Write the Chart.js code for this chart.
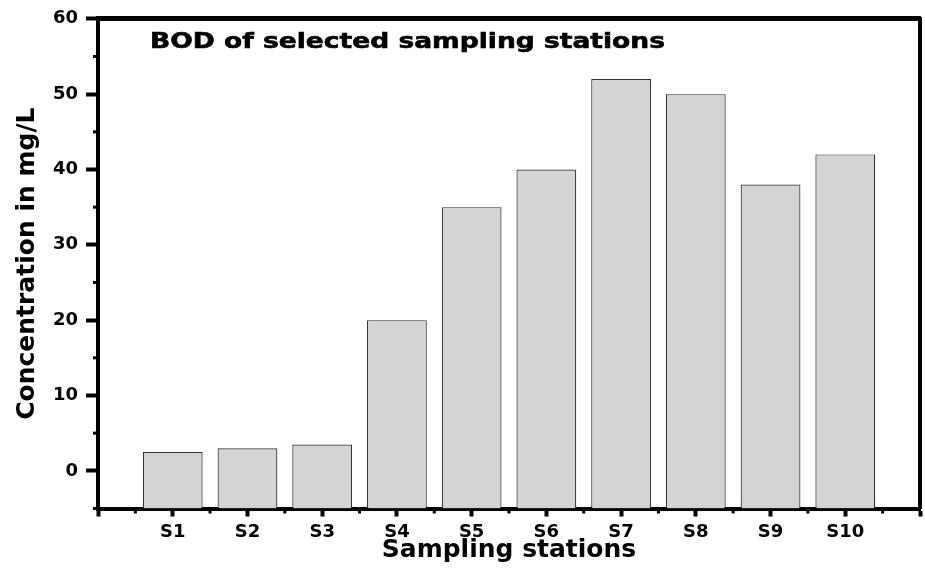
<!DOCTYPE html>
<html>
<head>
<meta charset="utf-8">
<script src="https://cdn.jsdelivr.net/npm/chart.js@4.4.0/dist/chart.umd.min.js"></script>
<style>
  html, body { margin: 0; padding: 0; background: #ffffff; }
  #wrap { width: 925px; height: 571px; }
</style>
</head>
<body>
<div id="wrap"><canvas id="c" width="925" height="571"></canvas></div>
<script>
const categories = ['S1', 'S2', 'S3', 'S4', 'S5', 'S6', 'S7', 'S8', 'S9', 'S10'];
const bodValues = [2.5, 3, 3.5, 20, 35, 40, 52, 50, 38, 42];
const yTickValues = [0, 10, 20, 30, 40, 50, 60];
const yMinorTicks = [-5, 5, 15, 25, 35, 45, 55];
const xMinorTicks = [0.5, 1.5, 2.5, 3.5, 4.5, 5.5, 6.5, 7.5, 8.5, 9.5, 10.5];
const chartTitle = 'BOD of selected sampling stations';
const xTitle = 'Sampling stations';
const yTitle = 'Concentration in mg/L';

const minorTicksPlugin = {
  id: 'minorTicks',
  afterDraw(chart) {
    const ctx = chart.ctx;
    const xs = chart.scales.x, ys = chart.scales.y;
    const area = chart.chartArea;
    ctx.save();
    ctx.fillStyle = '#000';
    yMinorTicks.forEach(v => {
      const py = ys.getPixelForValue(v);
      ctx.fillRect(area.left - 5, py - 1.5, 5, 3);
    });
    xMinorTicks.forEach(v => {
      const px = xs.getPixelForValue(v);
      ctx.fillRect(px - 1.5, area.bottom, 3, 5);
    });
    ctx.restore();
  }
};

const innerTitlePlugin = {
  id: 'innerTitle',
  afterDraw(chart) {
    const ctx = chart.ctx;
    ctx.save();
    ctx.font = 'bold 21px "DejaVu Sans", sans-serif';
    ctx.fillStyle = '#000';
    ctx.strokeStyle = '#000';
    ctx.lineWidth = 0.6;
    ctx.textBaseline = 'alphabetic';
    const w = ctx.measureText(chartTitle).width;
    const sx = 515 / w;
    ctx.translate(150, 47.5);
    ctx.scale(sx, 1);
    ctx.fillText(chartTitle, 0, 0);
    ctx.strokeText(chartTitle, 0, 0);
    ctx.restore();
  }
};

new Chart(document.getElementById('c'), {
  type: 'bar',
  data: {
    datasets: [{
      data: bodValues.map((v, i) => ({ x: i + 1, y: v })),
      base: -5,
      backgroundColor: '#d3d5d3',
      borderColor: '#333333',
      borderWidth: 1.2,
      borderSkipped: 'bottom',
      barPercentage: 0.8,
      categoryPercentage: 1.0
    }]
  },
  options: {
    responsive: false,
    animation: false,
    devicePixelRatio: 1,
    layout: { padding: { left: 0, right: 3, top: 18.5, bottom: 0 } },
    plugins: { legend: { display: false }, tooltip: { enabled: false }, title: { display: false } },
    scales: {
      x: {
        type: 'linear',
        position: 'bottom',
        min: 0, max: 11,
        offset: false,
        grid: { display: true, drawOnChartArea: false, offset: false, tickLength: 8, tickWidth: 4, tickColor: '#000' },
        border: { display: true, color: '#000', width: 4 },
        ticks: {
          stepSize: 1,
          autoSkip: false,
          maxRotation: 0,
          padding: 5,
          color: '#000',
          font: { family: '"DejaVu Sans", sans-serif', weight: 'bold', size: 18 },
          callback: (v) => categories[v - 1] || ''
        },
        title: {
          display: true, text: xTitle, color: '#000',
          font: { family: '"DejaVu Sans", sans-serif', weight: 'bold', size: 25 },
          padding: { top: 0, bottom: 5.5 }
        },
        afterFit: (s) => { s.height = 62.5; }
      },
      y: {
        type: 'linear',
        position: 'left',
        min: -5, max: 60,
        grid: { display: true, drawOnChartArea: false, tickLength: 12, tickWidth: 4, tickColor: '#000' },
        border: { display: true, color: '#000', width: 4 },
        afterBuildTicks: (s) => { s.ticks = yTickValues.map(v => ({ value: v })); },
        ticks: {
          padding: 8,
          color: '#000',
          font: { family: '"DejaVu Sans", sans-serif', weight: 'bold', size: 18 }
        },
        title: {
          display: true, text: yTitle, color: '#000',
          font: { family: '"DejaVu Sans", sans-serif', weight: 'bold', size: 25 },
          padding: { top: 12, bottom: 0 }
        },
        afterFit: (s) => { s.width = 98; }
      },
      xTop: {
        type: 'linear', position: 'top', min: 0, max: 11,
        grid: { display: false },
        border: { display: true, color: '#000', width: 5 },
        ticks: { display: false },
        afterFit: (s) => { s.height = 0; }
      },
      yRight: {
        type: 'linear', position: 'right', min: -5, max: 60,
        grid: { display: false },
        border: { display: true, color: '#000', width: 4 },
        ticks: { display: false },
        afterFit: (s) => { s.width = 0; }
      }
    }
  },
  plugins: [minorTicksPlugin, innerTitlePlugin]
});
</script>
</body>
</html>
